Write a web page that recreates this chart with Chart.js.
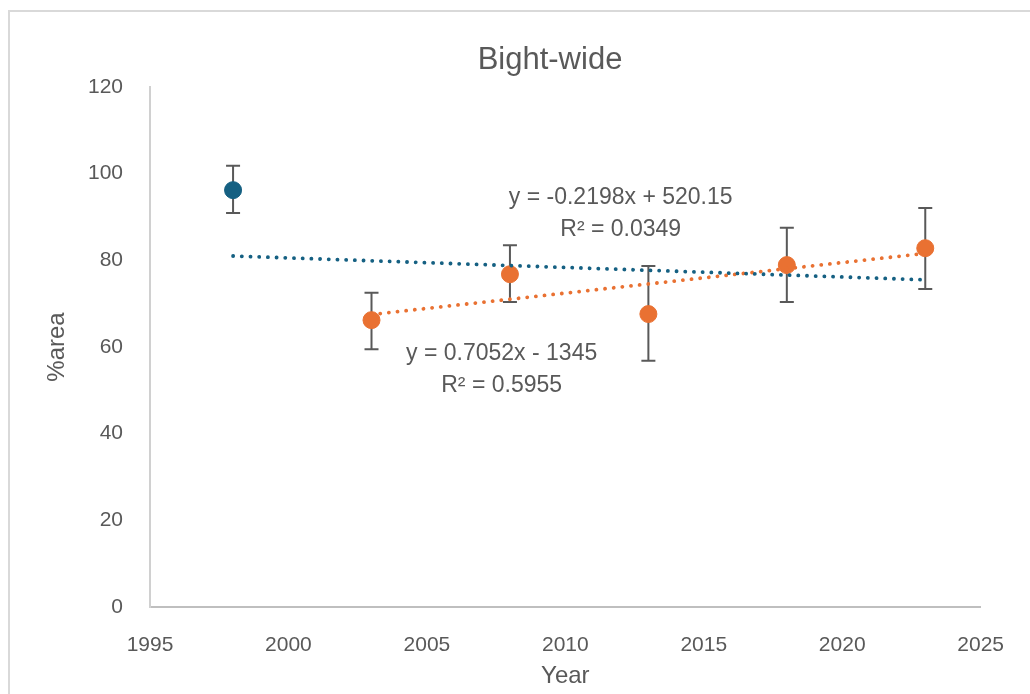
<!DOCTYPE html>
<html>
<head>
<meta charset="utf-8">
<script src="https://cdn.jsdelivr.net/npm/chart.js@4.4.1/dist/chart.umd.min.js"></script>
<style>
  html, body { margin: 0; padding: 0; background: #fff; }
  #wrap { width: 1030px; height: 694px; }
</style>
</head>
<body>
<div id="wrap"><canvas id="chart" width="1030" height="694"></canvas></div>
<script>
// values
var firstYears = [1998];
var firstMeans = [96.2];
var firstLow = [90.9];
var firstHigh = [101.8];

var laterYears = [2003, 2008, 2013, 2018, 2023];
var laterMeans = [66.2, 76.8, 67.6, 78.9, 82.8];
var laterLow = [59.5, 70.4, 56.8, 70.4, 73.4];
var laterHigh = [72.5, 83.5, 78.7, 87.5, 92.1];

// trendline ends
var blueTrendYears = [1998, 2023];
var blueTrendVals = [81.0, 75.5];
var orangeTrendYears = [2003, 2023];
var orangeTrendVals = [67.5, 81.6];

var xTicks = [1995, 2000, 2005, 2010, 2015, 2020, 2025];
var yTicks = [0, 20, 40, 60, 80, 100, 120];

var blue = '#156082';
var orange = '#E97132';
var grey = '#595959';
var font = "'Liberation Sans', Arial, sans-serif";

function pts(xs, ys) {
    return xs.map(function (x, i) { return {x: x, y: ys[i]}; });
}

var ctx = document.getElementById("chart");

// error bars + frame + title + trend equations
var extras = {
    id: 'extras',
    beforeDraw: function (chart) {
        var c = chart.ctx;
        c.save();
        c.strokeStyle = '#d9d9d9';
        c.lineWidth = 2;
        c.strokeRect(9, 11, 1100, 800);
        c.restore();
    },
    beforeDatasetsDraw: function (chart) {
        var c = chart.ctx, xs = chart.scales.x, ys = chart.scales.y;
        c.save();
        c.strokeStyle = grey;
        c.lineWidth = 2;
        function bars(years, lo, hi) {
            years.forEach(function (yr, i) {
                var px = xs.getPixelForValue(yr);
                var top = ys.getPixelForValue(hi[i]);
                var bot = ys.getPixelForValue(lo[i]);
                c.beginPath();
                c.moveTo(px, top); c.lineTo(px, bot);
                c.moveTo(px - 7, top); c.lineTo(px + 7, top);
                c.moveTo(px - 7, bot); c.lineTo(px + 7, bot);
                c.stroke();
            });
        }
        bars(firstYears, firstLow, firstHigh);
        bars(laterYears, laterLow, laterHigh);
        c.restore();
    },
    afterDraw: function (chart) {
        var c = chart.ctx, xs = chart.scales.x, ys = chart.scales.y;
        c.save();
        c.fillStyle = grey;
        c.textAlign = 'center';
        c.textBaseline = 'middle';
        c.font = "31px " + font;
        c.fillText('Bight-wide', 550, 60);
        c.font = "23px " + font;
        c.fillText('y = -0.2198x + 520.15', xs.getPixelForValue(2012.0), ys.getPixelForValue(94.4));
        c.fillText('R\u00B2 = 0.0349', xs.getPixelForValue(2012.0), ys.getPixelForValue(87.0));
        c.fillText('y = 0.7052x - 1345', xs.getPixelForValue(2007.7), ys.getPixelForValue(58.4));
        c.fillText('R\u00B2 = 0.5955', xs.getPixelForValue(2007.7), ys.getPixelForValue(51.0));
        c.restore();
    }
};

var myChart = new Chart(ctx, {
    type: 'scatter',
    data: {
        datasets: [
            {
                label: 'Blue trend',
                type: 'line',
                data: pts(blueTrendYears, blueTrendVals),
                borderColor: blue,
                borderWidth: 3.8,
                borderDash: [0.1, 8.6],
                borderCapStyle: 'round',
                pointRadius: 0,
                fill: false,
                order: 0
            },
            {
                label: 'Orange trend',
                type: 'line',
                data: pts(orangeTrendYears, orangeTrendVals),
                borderColor: orange,
                borderWidth: 3.8,
                borderDash: [0.1, 8.6],
                borderCapStyle: 'round',
                pointRadius: 0,
                fill: false,
                order: 0
            },
            {
                label: '1998',
                data: pts(firstYears, firstMeans),
                backgroundColor: blue,
                borderColor: blue,
                pointRadius: 8.5,
                order: 1
            },
            {
                label: 'Later',
                data: pts(laterYears, laterMeans),
                backgroundColor: orange,
                borderColor: orange,
                pointRadius: 8.5,
                order: 1
            }
        ]
    },
    options: {
        responsive: false,
        animation: false,
        layout: { padding: { left: 0, top: 87, right: 39, bottom: 0 } },
        plugins: {
            legend: { display: false },
            tooltip: { enabled: false }
        },
        scales: {
            x: {
                type: 'linear',
                min: 1995,
                max: 2025,
                afterBuildTicks: function (s) { s.ticks = xTicks.map(function (v) { return {value: v}; }); },
                afterFit: function (s) { s.height = 87; },
                grid: { display: false, drawTicks: false },
                border: { color: '#bfbfbf', width: 2 },
                ticks: {
                    color: grey, font: { size: 21, family: font }, padding: 26, maxRotation: 0,
                    callback: function (v) { return String(v); }
                },
                title: { display: true, text: 'Year', color: grey, font: { size: 24, family: font }, padding: 3 }
            },
            y: {
                min: 0,
                max: 120,
                afterBuildTicks: function (s) { s.ticks = yTicks.map(function (v) { return {value: v}; }); },
                afterFit: function (s) { s.width = 150; },
                grid: { display: false, drawTicks: false },
                border: { color: '#d0d0d0', width: 2 },
                ticks: { color: grey, font: { size: 21, family: font }, padding: 27 },
                title: { display: true, text: '%area', color: grey, font: { size: 24, family: font }, padding: 43 }
            }
        }
    },
    plugins: [extras]
});
</script>
</body>
</html>
